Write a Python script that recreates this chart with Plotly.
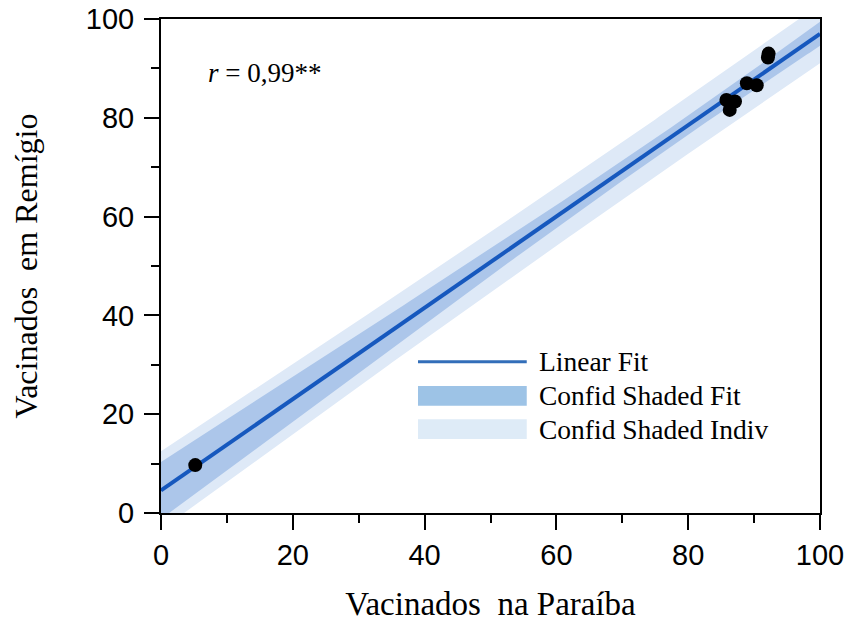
import numpy as np
import plotly.graph_objects as go

# Data
paraiba = [5.2, 85.8, 87.1, 86.3, 88.9, 90.4, 92.1, 92.2]
remigio = [9.7, 83.6, 83.3, 81.6, 87.0, 86.6, 92.2, 93.0]
r_label = "<i>r</i> = 0,99**"
x_ticks = [0, 20, 40, 60, 80, 100]
y_ticks = [0, 20, 40, 60, 80, 100]
legend_labels = ["Linear Fit", "Confid Shaded Fit", "Confid Shaded Indiv"]

x = np.array(paraiba, dtype=float)
y = np.array(remigio, dtype=float)
n = len(x)
b, a = np.polyfit(x, y, 1)
resid = y - (a + b * x)
s = np.sqrt(np.sum(resid ** 2) / (n - 2))
t_crit = 2.4469  # t(0.975, df=6)
xm = x.mean()
sxx = np.sum((x - xm) ** 2)

xg = np.linspace(0, 100, 201)
yg = a + b * xg
se_fit = s * np.sqrt(1 / n + (xg - xm) ** 2 / sxx)
se_pred = s * np.sqrt(1 + 1 / n + (xg - xm) ** 2 / sxx)

LINE = "rgb(22,88,190)"
DARK = "rgb(172,198,234)"
LIGHT = "rgb(222,233,247)"
LEG_DARK = "rgb(157,195,230)"
LEG_LIGHT = "rgb(222,235,247)"
SERIF = "Liberation Serif, Times New Roman, serif"
SANS = "Liberation Sans, Arial, sans-serif"

fig = go.Figure()
fig.add_trace(go.Scatter(x=xg, y=yg + t_crit * se_pred, mode="lines", line=dict(width=0), showlegend=False, hoverinfo="skip"))
fig.add_trace(go.Scatter(x=xg, y=yg - t_crit * se_pred, mode="lines", line=dict(width=0), fill="tonexty", fillcolor=LIGHT, showlegend=False, hoverinfo="skip"))
fig.add_trace(go.Scatter(x=xg, y=yg + t_crit * se_fit, mode="lines", line=dict(width=0), showlegend=False, hoverinfo="skip"))
fig.add_trace(go.Scatter(x=xg, y=yg - t_crit * se_fit, mode="lines", line=dict(width=0), fill="tonexty", fillcolor=DARK, showlegend=False, hoverinfo="skip"))
fig.add_trace(go.Scatter(x=xg, y=yg, mode="lines", line=dict(color=LINE, width=4), showlegend=False))
fig.add_trace(go.Scatter(x=x, y=y, mode="markers", marker=dict(color="black", size=14), showlegend=False))

axis_common = dict(
    showline=True, linecolor="black", linewidth=2, mirror=True,
    ticks="outside", ticklen=15, tickwidth=2, tickcolor="black",
    showgrid=False, zeroline=False, automargin=False,
    ticklabeloverflow="allow",
    tickfont=dict(family=SANS, size=29, color="black"),
    minor=dict(ticks="outside", ticklen=8, tickwidth=2, tickcolor="black", dtick=10, showgrid=False),
)
fig.update_xaxes(range=[0, 100], tickvals=x_ticks, **axis_common,
                 title=dict(text="Vacinados  na Paraíba", font=dict(family=SERIF, size=33, color="black"), standoff=22))
fig.update_yaxes(range=[0, 100], tickvals=y_ticks, **axis_common, ticklabelstandoff=4,
                 title=dict(text="Vacinados  em Remígio", font=dict(family=SERIF, size=32, color="black"), standoff=39))

# r annotation
fig.add_annotation(x=0.069, y=0.89, xref="paper", yref="paper", text=r_label, showarrow=False,
                   xanchor="left", yanchor="middle",
                   font=dict(family=SERIF, size=27, color="black"))

# custom legend
leg_x0, leg_x1 = 0.390, 0.555
rows = [0.306, 0.237, 0.170]
fig.add_shape(type="line", xref="paper", yref="paper", x0=leg_x0, x1=leg_x1, y0=rows[0], y1=rows[0],
              line=dict(color="rgb(50,110,185)", width=3))
for yy, col in [(rows[1], LEG_DARK), (rows[2], LEG_LIGHT)]:
    fig.add_shape(type="rect", xref="paper", yref="paper", x0=leg_x0, x1=leg_x1, y0=yy - 0.02, y1=yy + 0.02,
                  line=dict(width=0), fillcolor=col)
for yy, lab in zip(rows, legend_labels):
    fig.add_annotation(x=0.571, y=yy, xref="paper", yref="paper", text=lab, showarrow=False,
                       xanchor="left", yanchor="middle",
                       font=dict(family=SERIF, size=27.5, color="black"))

fig.update_layout(width=854, height=625, margin=dict(l=161, r=34, t=19, b=112),
                  plot_bgcolor="white", paper_bgcolor="white", showlegend=False)
fig.write_html("out.html", config={"displayModeBar": False},
               post_script="document.body.style.margin='0';")
